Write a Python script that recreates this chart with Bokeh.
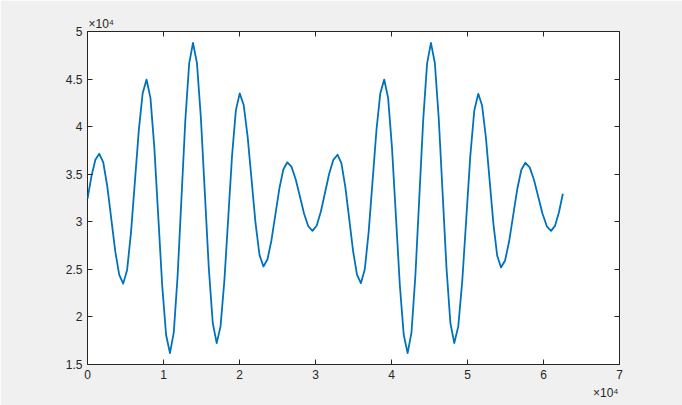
from bokeh.plotting import figure
from bokeh.models import FixedTicker, LinearAxis, Range1d, Title
from bokeh.embed import file_html
from bokeh.resources import INLINE

# Sample index (x) and signal amplitude (y)
sample_idx = [0, 517, 1033, 1550,
    2075, 2600, 3125, 3650, 4175, 4700,
    5212, 5723, 6235, 6747, 7258, 7770,
    8283, 8797, 9310, 9823, 10337, 10850,
    11355, 11860, 12365, 12870, 13375, 13880,
    14400, 14920, 15440, 15960, 16480, 17000,
    17505, 18010, 18515, 19020, 19525, 20030,
    20550, 21070, 21590, 22110, 22630, 23150,
    23675, 24200, 24725, 25250, 25775, 26300,
    26850, 27400, 27950, 28500, 29050, 29600,
    30150, 30700, 31250, 31800, 32350, 32900,
    33412, 33923, 34435, 34947, 35458, 35970,
    36482, 36993, 37505, 38017, 38528, 39040,
    39553, 40067, 40580, 41093, 41607, 42120,
    42632, 43143, 43655, 44167, 44678, 45190,
    45702, 46213, 46725, 47237, 47748, 48260,
    48787, 49313, 49840, 50367, 50893, 51420,
    51918, 52417, 52915, 53413, 53912, 54410,
    54945, 55480, 56015, 56550, 57085, 57620,
    58183, 58747, 59310, 59873, 60437, 61000,
    61517, 62033, 62550]

amplitude = [32400, 34775, 36515, 37150,
    36235, 33737, 30325, 26912, 24415, 23500,
    24937, 28863, 34225, 39588, 43513, 44950,
    43024, 37762, 30575, 23387, 18126, 16200,
    18384, 24350, 32500, 40650, 46616, 48800,
    46686, 40912, 33025, 25137, 19364, 17250,
    19009, 23813, 30375, 36938, 41741, 43500,
    42281, 38950, 34400, 29850, 26519, 25300,
    26034, 28038, 30775, 33513, 35516, 36250,
    35768, 34450, 32650, 30850, 29532, 29050,
    29586, 31050, 33050, 35050, 36514, 37050,
    36145, 33675, 30300, 26925, 24454, 23550,
    24984, 28900, 34250, 39600, 43516, 44950,
    43024, 37762, 30575, 23387, 18126, 16200,
    18384, 24350, 32500, 40650, 46616, 48800,
    46686, 40912, 33025, 25137, 19364, 17250,
    19005, 23800, 30350, 36900, 41695, 43450,
    42227, 38887, 34325, 29762, 26423, 25200,
    25937, 27950, 30700, 33450, 35463, 36200,
    35721, 34412, 32625, 30837, 29529, 29050,
    29572, 31000, 32950]

x_ticks = [0, 10000, 20000, 30000, 40000, 50000, 60000, 70000]
x_tick_labels = ["0", "1", "2", "3", "4", "5", "6", "7"]
y_ticks = [15000, 20000, 25000, 30000, 35000, 40000, 45000, 50000]
y_tick_labels = ["1.5", "2", "2.5", "3", "3.5", "4", "4.5", "5"]
exponent_text = "\u00d710\u2074"

AX = "#262626"
BG = "#f0f0f0"
FONT = "Liberation Sans"

p = figure(width=682, height=405, output_backend="svg", toolbar_location=None,
           x_range=Range1d(0, 70000), y_range=Range1d(15000, 50000),
           x_axis_location=None, y_axis_location=None,
           min_border_left=87, min_border_right=63, min_border_top=31, min_border_bottom=41)
p.background_fill_color = "white"
p.border_fill_color = BG
p.outline_line_color = AX
p.outline_line_width = 1
p.xgrid.visible = False
p.ygrid.visible = False

def style(ax, ticks, labels=None):
    ax.ticker = FixedTicker(ticks=ticks)
    ax.axis_line_color = None
    ax.major_tick_line_color = AX
    ax.major_tick_in = 5
    ax.major_tick_out = 0
    ax.minor_tick_line_color = None
    if labels is None:
        ax.major_label_text_font_size = "0px"
        ax.major_label_text_color = None
        ax.major_label_standoff = 0
    else:
        ax.major_label_overrides = dict(zip(ticks, labels))
        ax.major_label_text_font = FONT
        ax.major_label_text_font_size = "12px"
        ax.major_label_text_color = AX
        ax.major_label_standoff = 5

bottom = LinearAxis(); style(bottom, x_ticks, x_tick_labels)
left = LinearAxis(); style(left, y_ticks, y_tick_labels)
top = LinearAxis(); style(top, x_ticks)
right = LinearAxis(); style(right, y_ticks)
p.add_layout(bottom, "below")
p.add_layout(left, "left")
p.add_layout(top, "above")
p.add_layout(right, "right")

p.line(sample_idx, amplitude, line_color="#0072BD", line_width=1.8, line_join="round")

# exponent labels (×10⁴) at top-left and bottom-right
p.add_layout(Title(text=exponent_text, align="left", text_font=FONT, text_font_size="12px",
                   text_font_style="normal", text_color=AX, standoff=2, offset=1), "above")
p.add_layout(Title(text=exponent_text, align="right", text_font=FONT, text_font_size="12px",
                   text_font_style="normal", text_color=AX, standoff=5, offset=1), "below")

html = file_html(p, INLINE)
html = html.replace("<body>", '<body style="margin:0;background:#f0f0f0;overflow:hidden">', 1)
open("out.html", "w").write(html)
